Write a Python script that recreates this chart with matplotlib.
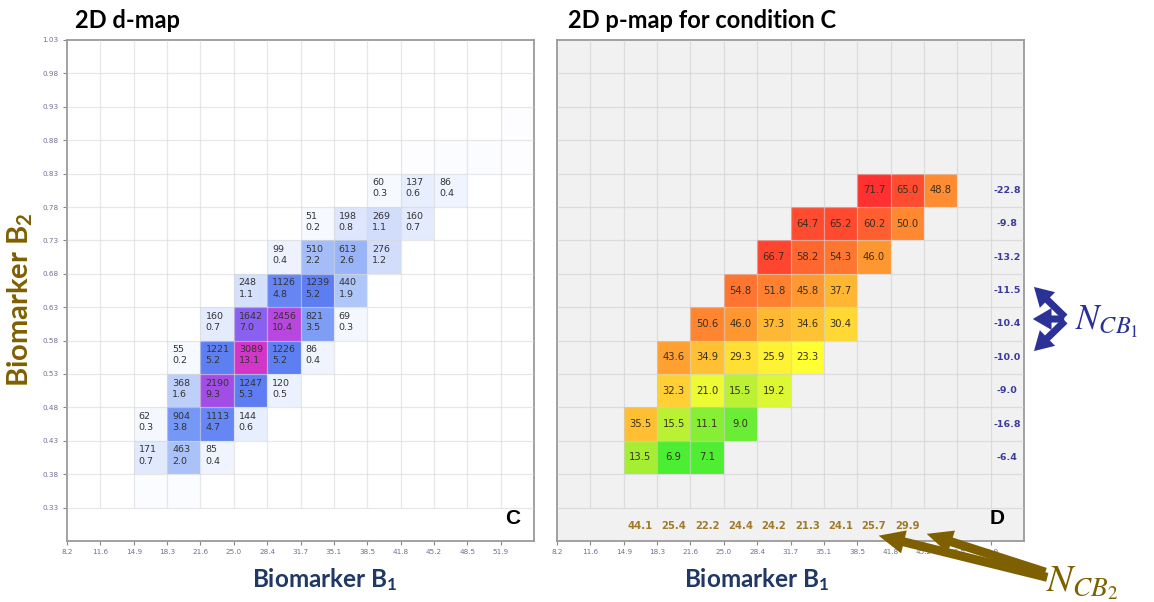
import numpy as np
import matplotlib
matplotlib.use("Agg")
import matplotlib.pyplot as plt
from matplotlib.colors import LinearSegmentedColormap, Normalize
from matplotlib.patches import FancyArrowPatch

plt.rcParams['mathtext.fontset'] = 'custom'
plt.rcParams['mathtext.rm'] = 'Lato'
plt.rcParams['mathtext.bf'] = 'Lato:bold'
plt.rcParams['mathtext.it'] = 'Lato:italic'

# axis tick labels
b1_labels = ["8.2", "11.6", "14.9", "18.3", "21.6", "25.0", "28.4", "31.7",
             "35.1", "38.5", "41.8", "45.2", "48.5", "51.9"]
b2_labels = ["0.33", "0.38", "0.43", "0.48", "0.53", "0.58", "0.63", "0.68",
             "0.73", "0.78", "0.83", "0.88", "0.93", "0.98", "1.03"]

# cells: column index along B1, row index along B2
cell_col = [2, 3, 4, 2, 3, 4, 5, 3, 4, 5, 6, 3, 4, 5, 6, 7, 4, 5, 6, 7, 8,
            5, 6, 7, 8, 6, 7, 8, 9, 7, 8, 9, 10, 9, 10, 11]
cell_row = [2, 2, 2, 3, 3, 3, 3, 4, 4, 4, 4, 5, 5, 5, 5, 5, 6, 6, 6, 6, 6,
            7, 7, 7, 7, 8, 8, 8, 8, 9, 9, 9, 9, 10, 10, 10]

# d-map counts and percentages
d_count = [171, 463, 85, 62, 904, 1113, 144, 368, 2190, 1247, 120,
           55, 1221, 3089, 1226, 86, 160, 1642, 2456, 821, 69,
           248, 1126, 1239, 440, 99, 510, 613, 276, 51, 198, 269, 160,
           60, 137, 86]
d_pct = [0.7, 2.0, 0.4, 0.3, 3.8, 4.7, 0.6, 1.6, 9.3, 5.3, 0.5,
         0.2, 5.2, 13.1, 5.2, 0.4, 0.7, 7.0, 10.4, 3.5, 0.3,
         1.1, 4.8, 5.2, 1.9, 0.4, 2.2, 2.6, 1.2, 0.2, 0.8, 1.1, 0.7,
         0.3, 0.6, 0.4]

# small unlabelled counts (faint cells)
faint_col = [2, 3, 10, 11, 12, 13, 13, 13]
faint_row = [1, 1, 11, 11, 11, 11, 12, 13]
faint_count = [30, 35, 18, 25, 25, 15, 15, 12]

# p-map values for condition C
p_val = [13.5, 6.9, 7.1, 35.5, 15.5, 11.1, 9.0, 32.3, 21.0, 15.5, 19.2,
         43.6, 34.9, 29.3, 25.9, 23.3, 50.6, 46.0, 37.3, 34.6, 30.4,
         54.8, 51.8, 45.8, 37.7, 66.7, 58.2, 54.3, 46.0, 64.7, 65.2, 60.2, 50.0,
         71.7, 65.0, 48.8]

# marginal values
ncb1_rows = [2, 3, 4, 5, 6, 7, 8, 9, 10]
ncb1 = [-6.4, -16.8, -9.0, -10.0, -10.4, -11.5, -13.2, -9.8, -22.8]
ncb2_cols = [2, 3, 4, 5, 6, 7, 8, 9, 10]
ncb2 = [44.1, 25.4, 22.2, 24.4, 24.2, 21.3, 24.1, 25.7, 29.9]

W, H = 1154, 602
fig = plt.figure(figsize=(W / 100, H / 100), dpi=100)

def px(x, y):
    return (x / W, 1 - y / H)

bw = (float(b1_labels[-1]) - float(b1_labels[0])) / 13
x_edges = float(b1_labels[0]) + bw * np.arange(15)
y_edges = np.round(0.28 + 0.05 * np.arange(16), 2)

d_cmap = LinearSegmentedColormap.from_list("dmap", [
    (0.0, "#ffffff"), (0.03, "#eef3fe"), (0.09, "#cfdcfb"), (0.15, "#aac2f8"),
    (0.29, "#7597f5"), (0.40, "#5d7ef2"), (0.53, "#8a60f0"), (0.71, "#a24ee6"),
    (0.80, "#b847de"), (1.0, "#d236c8")])
p_cmap = LinearSegmentedColormap.from_list("pmap", [
    (0.0, "#33ee33"), (0.13, "#aaee33"), (0.27, "#ffff33"), (0.45, "#ffc033"),
    (0.67, "#ff8830"), (1.0, "#ff3030")])


def setup(ax, bg, gridc, ylabels):
    ax.set_facecolor(bg)
    ax.set_xlim(x_edges[0], x_edges[-1])
    ax.set_ylim(y_edges[0], y_edges[-1])
    ax.vlines(x_edges[1:14], 0.33, 1.03, color=gridc, lw=0.9, alpha=0.6, zorder=3)
    ax.hlines(y_edges[1:15], x_edges[0], x_edges[-1], color=gridc, lw=0.9, alpha=0.6, zorder=3)
    ax.set_xticks(x_edges[:14])
    ax.set_xticklabels(b1_labels)
    if ylabels:
        ax.set_yticks(y_edges[1:])
        ax.set_yticklabels(b2_labels)
    else:
        ax.set_yticks([])
    ax.tick_params(length=3, width=0.8, color="#888888", labelsize=5.2,
                   labelcolor="#707090", pad=3)
    for s in ax.spines.values():
        s.set_color("#9a9a9a")
        s.set_linewidth(1.3)


# ---- left: 2D d-map
ax1 = fig.add_axes([67 / W, 1 - 541 / H, (534 - 67) / W, (541 - 40) / H])
setup(ax1, "white", "#d8d8d8", True)
D = np.zeros((15, 14))
D[faint_row, faint_col] = faint_count
D[cell_row, cell_col] = d_count
ax1.pcolormesh(x_edges, y_edges, np.ma.masked_equal(D, 0), cmap=d_cmap,
               norm=Normalize(0, max(d_count)), zorder=1)
for r, c, n, p in zip(cell_row, cell_col, d_count, d_pct):
    ax1.text(x_edges[c] + 0.15 * bw, y_edges[r + 1] - 0.007, f"{n}\n{p:.1f}",
             ha="left", va="top", fontsize=6.8, color="#333333",
             linespacing=1.3, zorder=4)
ax1.text(0.955, 0.045, "C", transform=ax1.transAxes, ha="center", va="center",
         fontsize=15, fontweight="bold", family="Liberation Sans")
fig.text(75 / W, 1 - 21 / H, "2D d-map", ha="left", va="center",
         fontsize=17, fontweight="bold", family="Lato")

# ---- right: 2D p-map
ax2 = fig.add_axes([557 / W, 1 - 541 / H, (1024 - 557) / W, (541 - 40) / H])
setup(ax2, "#f1f1f1", "#cfcfcf", False)
P = np.full((15, 14), np.nan)
P[cell_row, cell_col] = p_val
ax2.pcolormesh(x_edges, y_edges, np.ma.masked_invalid(P), cmap=p_cmap,
               norm=Normalize(5, 72), zorder=1)
for r, c, v in zip(cell_row, cell_col, p_val):
    ax2.text((x_edges[c] + x_edges[c + 1]) / 2, (y_edges[r] + y_edges[r + 1]) / 2,
             f"{v:.1f}", ha="center", va="center", fontsize=7.2, color="#3a3020", zorder=4)
for r, v in zip(ncb1_rows, ncb1):
    ax2.text((x_edges[13] + x_edges[14]) / 2, (y_edges[r] + y_edges[r + 1]) / 2,
             f"{v:.1f}", ha="center", va="center", fontsize=6.8,
             fontweight="bold", color="#3b3b9e", zorder=4)
for c, v in zip(ncb2_cols, ncb2):
    ax2.text((x_edges[c] + x_edges[c + 1]) / 2, (y_edges[0] + y_edges[1]) / 2 - 0.003,
             f"{v:.1f}", ha="center", va="center", fontsize=7.2,
             fontweight="bold", color="#a27a28", zorder=4)
ax2.text(0.942, 0.045, "D", transform=ax2.transAxes, ha="center", va="center",
         fontsize=15, fontweight="bold", family="Liberation Sans")
fig.text(568 / W, 1 - 21 / H, "2D p-map for condition C", ha="left", va="center",
         fontsize=17, fontweight="bold", family="Lato")

# axis labels
navy = "#1f3864"
brown = "#7f6000"
fig.text(*px(325, 580), r"Biomarker B$_\mathbf{1}$", ha="center", va="center",
         fontsize=17.5, fontweight="bold", family="Lato", color=navy)
fig.text(*px(757, 580), r"Biomarker B$_\mathbf{1}$", ha="center", va="center",
         fontsize=17.5, fontweight="bold", family="Lato", color=navy)
fig.text(*px(20, 300), r"Biomarker B$_\mathbf{2}$", ha="center", va="center",
         rotation=90, fontsize=21, fontweight="bold", family="Lato", color=brown)

# N_CB1 annotation
blue = "#2b3196"
fig.text(*px(1075, 322), r"$N_{CB_1}$", ha="left", va="center", fontsize=25,
         color=blue, math_fontfamily="stix")
for tip in [(1032, 285), (1030, 319), (1032, 353)]:
    fig.add_artist(FancyArrowPatch(px(1067, 319), px(*tip), transform=fig.transFigure,
                                   arrowstyle="simple,head_length=0.9,head_width=1.05,tail_width=0.34",
                                   mutation_scale=15, color=blue, lw=0))

# N_CB2 annotation
fig.text(*px(1046, 583), r"$N_{CB_2}$", ha="left", va="center", fontsize=28,
         color=brown, math_fontfamily="stix")
for tail, tip in [((1050, 578), (876, 535)), ((1048, 573), (924, 533))]:
    fig.add_artist(FancyArrowPatch(px(*tail), px(*tip), transform=fig.transFigure,
                                   arrowstyle="simple,head_length=1.1,head_width=1.0,tail_width=0.38",
                                   mutation_scale=17, color=brown, lw=0))

fig.savefig("out.png", dpi=100)
